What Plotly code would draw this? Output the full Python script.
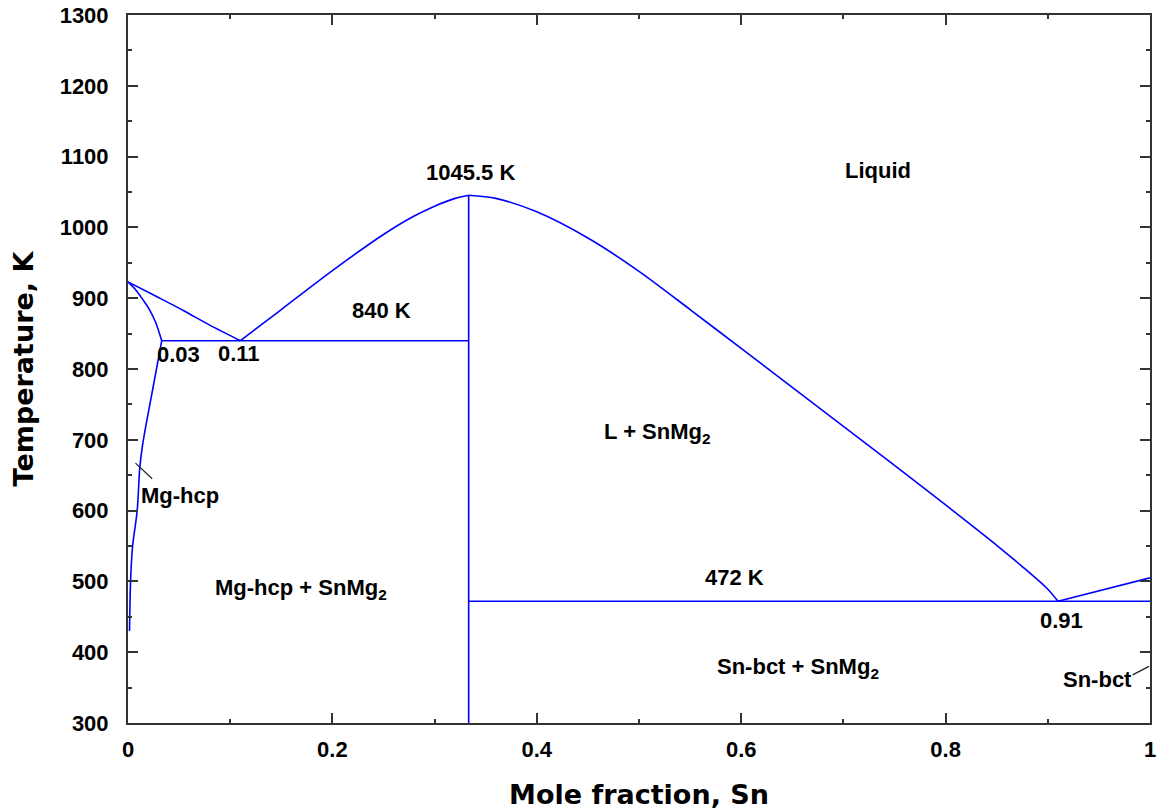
import plotly.graph_objects as go

# Mg-Sn phase diagram (x = mole fraction Sn, T in K)
T_MG_MELT = 923.0
T_SN_MELT = 505.0
T_EUT_MG = 840.0
T_EUT_SN = 472.0
T_MAX = 1045.5
X_SNMG2 = 1.0 / 3.0
X_EUT_MG = 0.11
X_EUT_SN = 0.91
X_HCP_MAX = 0.033

# Liquidus, Mg side (Mg melting point -> Mg-rich eutectic)
liq_mg_x = [0.0, 0.027, 0.055, 0.08, X_EUT_MG]
liq_mg_T = [T_MG_MELT, 903, 882, 862, T_EUT_MG]

# Liquidus, Mg-rich eutectic -> congruent maximum of SnMg2
liq_a_x = [X_EUT_MG, 0.15, 0.2, 0.25, 0.28, 0.3, 0.32, X_SNMG2]
liq_a_T = [T_EUT_MG, 884, 939, 990, 1016, 1030, 1041, T_MAX]

# Liquidus, SnMg2 maximum -> Sn-rich eutectic
liq_b_x = [X_SNMG2, 0.36, 0.4, 0.45, 0.5, 0.55, 0.6, 0.65, 0.7, 0.75, 0.8, 0.85, 0.875, 0.9, X_EUT_SN]
liq_b_T = [T_MAX, 1041, 1022, 985, 938, 884, 829, 774, 719, 664, 608, 551, 521, 489, T_EUT_SN]

# Liquidus, Sn-rich eutectic -> Sn melting point
liq_sn_x = [X_EUT_SN, 1.0]
liq_sn_T = [T_EUT_SN, T_SN_MELT]

# Mg-hcp solidus
sol_x = [0.0, 0.008, 0.015, 0.021, 0.027, X_HCP_MAX]
sol_T = [T_MG_MELT, 911, 897, 884, 866, T_EUT_MG]

# Mg-hcp solvus
solv_x = [X_HCP_MAX, 0.024, 0.0175, 0.014, 0.0115, 0.009, 0.0045, 0.0025, 0.0015]
solv_T = [T_EUT_MG, 770, 720, 690, 660, 600, 550, 500, 430]

# Invariant lines and the SnMg2 line compound
eut_mg_x = [X_HCP_MAX, X_SNMG2]
eut_mg_T = [T_EUT_MG, T_EUT_MG]
eut_sn_x = [X_SNMG2, 1.0]
eut_sn_T = [T_EUT_SN, T_EUT_SN]
comp_x = [X_SNMG2, X_SNMG2]
comp_T = [300, T_MAX]

x_ticks = [0, 0.2, 0.4, 0.6, 0.8, 1]
x_tick_text = ["0", "0.2", "0.4", "0.6", "0.8", "1"]
y_ticks = [300, 400, 500, 600, 700, 800, 900, 1000, 1100, 1200, 1300]

BLUE = "#0000ff"
AXIS = "#333333"
LABEL_FONT = dict(family="Liberation Sans, Arial, sans-serif", size=22, color="#000000", weight="bold")
TITLE_FONT = dict(family="DejaVu Sans, Verdana, sans-serif", size=27, color="#000000", weight="bold")

fig = go.Figure()
curves = [
    (liq_mg_x, liq_mg_T), (liq_a_x, liq_a_T), (liq_b_x, liq_b_T),
    (sol_x, sol_T), (solv_x, solv_T),
]
straights = [
    (liq_sn_x, liq_sn_T), (eut_mg_x, eut_mg_T), (eut_sn_x, eut_sn_T), (comp_x, comp_T),
]
for bx, bT in curves:
    fig.add_trace(go.Scatter(x=bx, y=bT, mode="lines",
                             line=dict(color=BLUE, width=1.6, shape="spline", smoothing=0.8),
                             hoverinfo="skip", showlegend=False))
for bx, bT in straights:
    fig.add_trace(go.Scatter(x=bx, y=bT, mode="lines",
                             line=dict(color=BLUE, width=1.6),
                             hoverinfo="skip", showlegend=False))

# Region and point labels
labels = [
    ("1045.5 K", 0.335, 1077),
    ("Liquid", 0.734, 1081),
    ("840 K", 0.248, 882),
    ("0.03", 0.049, 820),
    ("0.11", 0.109, 822),
    ("L + SnMg<sub>2</sub>", 0.518, 709),
    ("472 K", 0.593, 505),
    ("0.91", 0.913, 445),
    ("Mg-hcp + SnMg<sub>2</sub>", 0.169, 489),
    ("Sn-bct + SnMg<sub>2</sub>", 0.656, 377),
    ("Sn-bct", 0.949, 361),
    ("Mg-hcp", 0.0505, 622),
]
for text, lx, ly in labels:
    fig.add_annotation(x=lx, y=ly, text=text, showarrow=False, font=LABEL_FONT)

# Leader lines for the single-phase solid solutions
leaders = [((0.0073, 667), (0.0237, 645)), ((0.983, 368), (0.999, 380))]
for (x0, y0), (x1, y1) in leaders:
    fig.add_shape(type="line", x0=x0, y0=y0, x1=x1, y1=y1,
                  line=dict(color="#222222", width=1.2))

axis_common = dict(
    showgrid=False, zeroline=False, showline=True, linecolor=AXIS, linewidth=2,
    mirror="allticks", ticks="inside", ticklen=10, tickwidth=2, tickcolor=AXIS,
    tickfont=LABEL_FONT,
)
fig.update_xaxes(
    range=[0, 1], tickvals=x_ticks, ticktext=x_tick_text,
    minor=dict(ticks="inside", ticklen=4, tickwidth=2, tickcolor=AXIS, dtick=0.1, showgrid=False),
    title=dict(text="Mole fraction, Sn", font=TITLE_FONT, standoff=24),
    ticklabelstandoff=6,
    **axis_common,
)
fig.update_yaxes(
    range=[300, 1300], tickvals=y_ticks,
    minor=dict(ticks="inside", ticklen=4, tickwidth=2, tickcolor=AXIS, dtick=50, showgrid=False),
    title=dict(text="Temperature, K", font=TITLE_FONT, standoff=18),
    ticklabelstandoff=13,
    **axis_common,
)
fig.update_layout(
    width=1159, height=812,
    margin=dict(l=128, r=9, t=15, b=89, autoexpand=False),
    plot_bgcolor="#ffffff", paper_bgcolor="#ffffff",
)
fig.write_html("out.html")
